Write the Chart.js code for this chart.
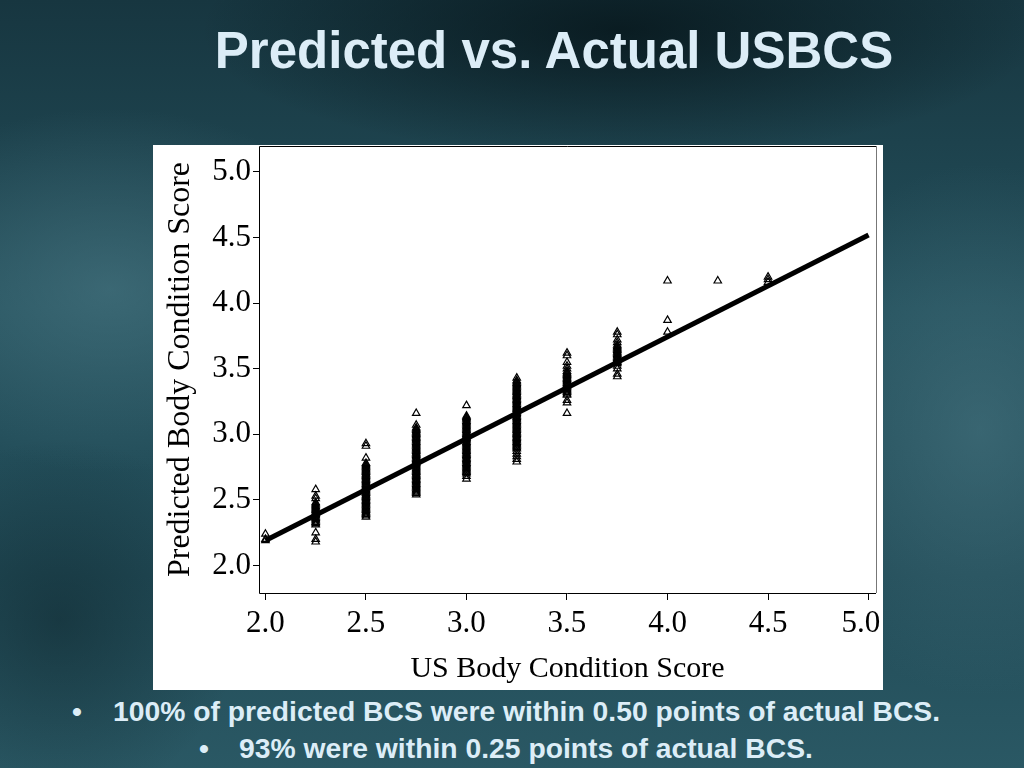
<!DOCTYPE html>
<html>
<head>
<meta charset="utf-8">
<title>Predicted vs. Actual USBCS</title>
<script src="https://cdn.jsdelivr.net/npm/chart.js@4.4.0/dist/chart.umd.min.js"></script>
<style>
  html, body { margin: 0; padding: 0; }
  body {
    width: 1024px; height: 768px; overflow: hidden; position: relative;
    background:
      radial-gradient(ellipse 380px 260px at 110px 290px, rgba(78,124,136,0.55), rgba(78,124,136,0) 70%),
      radial-gradient(ellipse 300px 380px at 980px 430px, rgba(78,124,136,0.5), rgba(78,124,136,0) 70%),
      radial-gradient(ellipse 560px 170px at 620px 30px, rgba(4,16,20,0.7), rgba(4,16,20,0) 75%),
      radial-gradient(ellipse 260px 260px at 60px 620px, rgba(10,30,36,0.45), rgba(10,30,36,0) 70%),
      linear-gradient(180deg, #173640 0%, #24505c 40%, #224c58 75%, #2a5864 100%);
  }
  #title {
    position: absolute; left: 0; top: 21px; width: 1108px; text-align: center;
    font: bold 51px "Liberation Sans", Arial, sans-serif; color: #dcedf7;
    white-space: nowrap;
  }
  #chartBox {
    position: absolute; left: 153px; top: 145px; width: 730px; height: 545px;
    background: #ffffff;
  }
  .note {
    position: absolute; font: bold 28.3px "Liberation Sans", Arial, sans-serif;
    color: #dcedf7; white-space: nowrap;
  }
</style>
</head>
<body>
<div id="title">Predicted vs. Actual USBCS</div>
<div id="chartBox"><canvas id="bcsChart" width="730" height="545"></canvas></div>
<div class="note" style="left:72px; top:695px;">•</div>
<div class="note" style="left:113px; top:695px;">100% of predicted BCS were within 0.50 points of actual BCS.</div>
<div class="note" style="left:199px; top:732px;">•</div>
<div class="note" style="left:239px; top:732px;">93% were within 0.25 points of actual BCS.</div>
<script>
// Actual scores (x) and the predicted scores
const actualBCS = [2.0, 2.25, 2.5, 2.75, 3.0, 3.25, 3.5, 3.75, 4.0, 4.25, 4.5];
const pred200 = [2.19, 2.20, 2.24];
const pred225 = [2.18, 2.20, 2.25, 2.31, 2.32, 2.33, 2.34, 2.35, 2.36, 2.37, 2.38, 2.39, 2.40, 2.41, 2.42,
                 2.43, 2.44, 2.45, 2.46, 2.47, 2.48, 2.51, 2.53, 2.58];
const pred250 = [2.37, 2.38, 2.39, 2.40, 2.41, 2.42, 2.43, 2.44, 2.45, 2.46, 2.47, 2.48, 2.49, 2.50,
                 2.51, 2.52, 2.53, 2.54, 2.55, 2.56, 2.57, 2.58, 2.59, 2.60, 2.61, 2.62, 2.63, 2.64,
                 2.65, 2.66, 2.67, 2.68, 2.69, 2.70, 2.71, 2.72, 2.73, 2.74, 2.75, 2.76, 2.77, 2.78,
                 2.82, 2.91, 2.93];
const pred275 = [2.54, 2.55, 2.56, 2.57, 2.58, 2.59, 2.60, 2.61, 2.62, 2.63, 2.64, 2.65, 2.66, 2.67,
                 2.68, 2.69, 2.70, 2.71, 2.72, 2.73, 2.74, 2.75, 2.76, 2.77, 2.78, 2.79, 2.80, 2.81,
                 2.82, 2.83, 2.84, 2.85, 2.86, 2.87, 2.88, 2.89, 2.90, 2.91, 2.92, 2.93, 2.94, 2.95,
                 2.96, 2.97, 2.98, 2.99, 3.00, 3.01, 3.02, 3.03, 3.04, 3.05, 3.07, 3.16];
const pred300 = [2.66, 2.68, 2.70, 2.71, 2.72, 2.73, 2.74, 2.75, 2.76, 2.77, 2.78, 2.79, 2.80, 2.81,
                 2.82, 2.83, 2.84, 2.85, 2.86, 2.87, 2.88, 2.89, 2.90, 2.91, 2.92, 2.93, 2.94, 2.95,
                 2.96, 2.97, 2.98, 2.99, 3.00, 3.01, 3.02, 3.03, 3.04, 3.05, 3.06, 3.07, 3.08, 3.09,
                 3.10, 3.11, 3.12, 3.13, 3.14, 3.22];
const pred325 = [2.79, 2.81, 2.83, 2.85, 2.87, 2.89, 2.90, 2.91, 2.92, 2.93, 2.94, 2.95, 2.96, 2.97,
                 2.98, 2.99, 3.00, 3.01, 3.02, 3.03, 3.04, 3.05, 3.06, 3.07, 3.08, 3.09, 3.10, 3.11,
                 3.12, 3.13, 3.14, 3.15, 3.16, 3.17, 3.18, 3.19, 3.20, 3.21, 3.22, 3.23, 3.24, 3.25,
                 3.26, 3.27, 3.28, 3.29, 3.30, 3.31, 3.32, 3.33, 3.34, 3.35, 3.36, 3.37, 3.38, 3.39,
                 3.40, 3.41, 3.43];
const pred350 = [3.16, 3.24, 3.26, 3.30, 3.31, 3.32, 3.33, 3.34, 3.35, 3.36, 3.37, 3.38, 3.39, 3.40,
                 3.41, 3.42, 3.43, 3.44, 3.45, 3.46, 3.47, 3.48, 3.50, 3.52, 3.55, 3.60, 3.62];
const pred375 = [3.44, 3.46, 3.50, 3.52, 3.54, 3.55, 3.56, 3.57, 3.58, 3.59, 3.60, 3.61, 3.62, 3.63,
                 3.64, 3.65, 3.66, 3.67, 3.68, 3.70, 3.72, 3.76, 3.78];
const pred400 = [3.78, 3.87, 4.17];
const pred425 = [4.17];
const pred450 = [4.16, 4.18, 4.20];
const predictedBCS = [pred200, pred225, pred250, pred275, pred300, pred325, pred350, pred375,
                      pred400, pred425, pred450];

// regression line end points
const fitX = [2.0, 5.0];
const fitY = [2.19, 4.52];

const tickValues = [2.0, 2.5, 3.0, 3.5, 4.0, 4.5, 5.0];

const points = actualBCS.flatMap((x, i) => predictedBCS[i].map(y => ({x: x, y: y})));
const fitPoints = fitX.map((x, i) => ({x: x, y: fitY[i]}));

// plot frame: black on top/left/bottom, grey on the right
const framePlugin = {
  id: 'frame',
  afterDatasetsDraw(chart) {
    const {ctx, chartArea: a} = chart;
    ctx.save();
    ctx.lineWidth = 1;
    ctx.strokeStyle = '#000';
    ctx.beginPath();
    ctx.moveTo(a.right, a.top + 0.5);
    ctx.lineTo(a.left + 0.5, a.top + 0.5);
    ctx.lineTo(a.left + 0.5, a.bottom + 0.5);
    ctx.lineTo(a.right, a.bottom + 0.5);
    ctx.stroke();
    ctx.strokeStyle = '#777';
    ctx.beginPath();
    ctx.moveTo(a.right + 0.5, a.top);
    ctx.lineTo(a.right + 0.5, a.bottom);
    ctx.stroke();
    ctx.restore();
  }
};

const serif = 'Liberation Serif, "Times New Roman", serif';

new Chart(document.getElementById('bcsChart').getContext('2d'), {
  type: 'scatter',
  data: {
    datasets: [{
      type: 'line',
      label: 'Fit',
      data: fitPoints,
      borderColor: '#000',
      borderWidth: 5,
      pointRadius: 0,
      fill: false,
      order: 0
    }, {
      label: 'Predicted',
      data: points,
      pointStyle: 'triangle',
      pointRadius: 4.3,
      borderColor: '#000',
      borderWidth: 1.2,
      backgroundColor: 'rgba(255,255,255,0)',
      order: 1
    }]
  },
  options: {
    responsive: false,
    animation: false,
    devicePixelRatio: 1,
    layout: { autoPadding: false, padding: { top: 1, right: 7, left: 0, bottom: 0 } },
    plugins: { legend: { display: false }, tooltip: { enabled: false } },
    scales: {
      x: {
        type: 'linear',
        min: 1.968,
        max: 5.037,
        afterBuildTicks: s => { s.ticks = tickValues.map(v => ({value: v})); },
        afterFit: s => { s.height = 97; s.paddingLeft = 0; s.paddingRight = 0; },
        border: { display: false },
        grid: { drawOnChartArea: false, drawTicks: true, tickLength: 7, color: '#000' },
        ticks: {
          color: '#000',
          font: { family: serif, size: 31 },
          padding: 5,
          maxRotation: 0,
          autoSkip: false,
          callback: v => v === 5 ? '5.0\u2002' : v.toFixed(1)
        },
        title: {
          display: true,
          text: 'US Body Condition Score',
          color: '#000',
          font: { family: serif, size: 30 },
          padding: { top: 0, bottom: 3 }
        }
      },
      y: {
        type: 'linear',
        min: 1.79,
        max: 5.198,
        afterBuildTicks: s => { s.ticks = tickValues.map(v => ({value: v})); },
        afterFit: s => { s.width = 106; s.paddingTop = 0; s.paddingBottom = 0; },
        border: { display: false },
        grid: { drawOnChartArea: false, drawTicks: true, tickLength: 6, color: '#000' },
        ticks: {
          color: '#000',
          font: { family: serif, size: 31 },
          padding: 2,
          autoSkip: false,
          callback: v => v.toFixed(1)
        },
        title: {
          display: true,
          text: 'Predicted Body Condition Score',
          color: '#000',
          font: { family: serif, size: 32 },
          padding: { top: 8, bottom: 0 }
        }
      }
    }
  },
  plugins: [framePlugin]
});
</script>
</body>
</html>
